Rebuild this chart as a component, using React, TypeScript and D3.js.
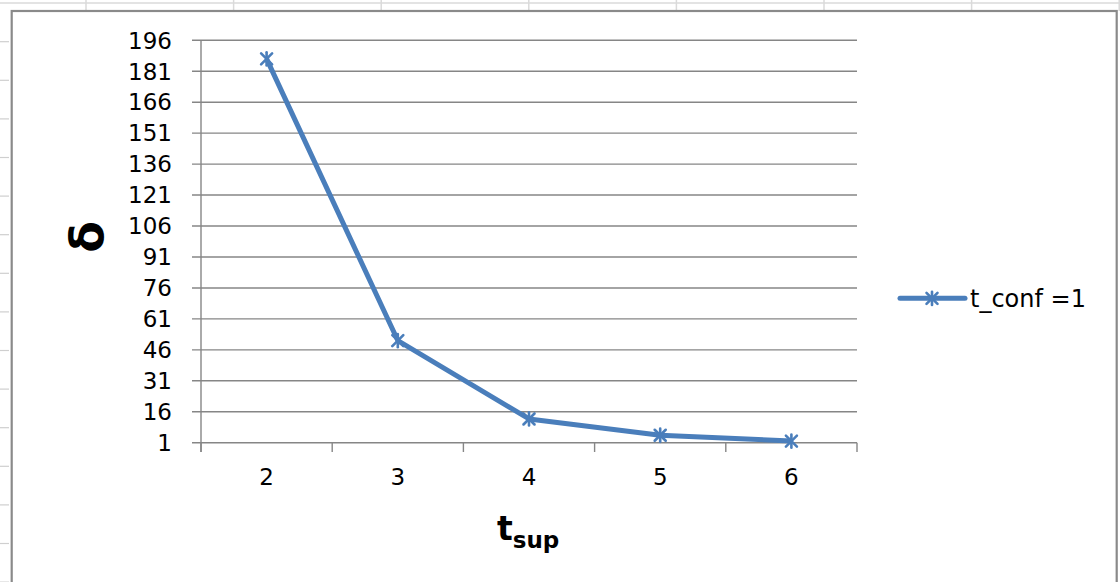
import React from "react";
import * as d3 from "d3";

const categories = ["2", "3", "4", "5", "6"];
const seriesName = "t_conf =1";
const values = [187, 50.5, 12.5, 4.6, 1.8];
const yTicks = [1, 16, 31, 46, 61, 76, 91, 106, 121, 136, 151, 166, 181, 196];

const W = 1120;
const H = 582;
const COLOR = "#4a7ebb";
const GRID = "#868686";
const FONT = "'DejaVu Sans', sans-serif";

export default function App() {
  const x = d3.scaleBand<string>().domain(categories).range([201, 857]);
  const y = d3.scaleLinear().domain([1, 196]).range([442.7, 40.3]);
  const line = d3
    .line<number>()
    .x((_, i) => (x(categories[i]) as number) + x.bandwidth() / 2)
    .y((d) => y(d));

  const sheetCols = d3.range(86, W, 147.6);
  const sheetRows = d3.range(41.7, H + 1, 38.6);
  const bounds = [...categories.map((c) => x(c) as number), 857];

  const star = (cx: number, cy: number, s: number, key: string | number) => (
    <g key={key} stroke={COLOR} strokeWidth={2.6} strokeLinecap="round">
      <line x1={cx - s} y1={cy - s} x2={cx + s} y2={cy + s} />
      <line x1={cx - s} y1={cy + s} x2={cx + s} y2={cy - s} />
      <line x1={cx} y1={cy - s * 1.2} x2={cx} y2={cy + s * 1.2} />
    </g>
  );

  return (
    <div style={{ position: "absolute", left: 0, top: 0 }}>
      <svg width={W} height={H} style={{ display: "block", background: "#fff" }}>
        {/* spreadsheet background */}
        <line x1={0} x2={W} y1={3} y2={3} stroke="#dadada" strokeWidth={1.5} />
        {sheetCols.map((cx, i) => (
          <line key={"c" + i} x1={cx} x2={cx} y1={0} y2={11} stroke="#dadada" strokeWidth={1.5} />
        ))}
        {sheetRows.map((ry, i) => (
          <line key={"r" + i} x1={0} x2={9} y1={ry} y2={ry} stroke="#cfcfcf" strokeWidth={1.2} />
        ))}
        {/* chart area */}
        <rect x={11.7} y={11} width={1105} height={H + 20} fill="#fff" stroke="#8a8a8a" strokeWidth={2.2} />

        {/* gridlines + y ticks */}
        {yTicks.map((t) => (
          <g key={"g" + t}>
            <line x1={192} x2={857} y1={y(t)} y2={y(t)} stroke={GRID} strokeWidth={1.4} />
            <text
              x={172}
              y={y(t)}
              dy="0.36em"
              textAnchor="end"
              fontFamily={FONT}
              fontSize={23}
              fill="#000"
            >
              {t}
            </text>
          </g>
        ))}
        {/* y axis */}
        <line x1={201} x2={201} y1={y(196)} y2={452} stroke={GRID} strokeWidth={1.4} />
        {/* x tick marks */}
        {bounds.map((b, i) => (
          <line key={"xt" + i} x1={b} x2={b} y1={y(1)} y2={452} stroke={GRID} strokeWidth={1.4} />
        ))}
        {categories.map((c) => (
          <text
            key={"xl" + c}
            x={(x(c) as number) + x.bandwidth() / 2}
            y={477}
            dy="0.36em"
            textAnchor="middle"
            fontFamily={FONT}
            fontSize={23}
            fill="#000"
          >
            {c}
          </text>
        ))}

        {/* series */}
        <path d={line(values) || ""} fill="none" stroke={COLOR} strokeWidth={5} strokeLinejoin="round" />
        {values.map((v, i) =>
          star((x(categories[i]) as number) + x.bandwidth() / 2, y(v), 5.5, "m" + i)
        )}

        {/* axis titles */}
        <text
          transform={`translate(103,237) rotate(-90)`}
          textAnchor="middle"
          fontFamily={FONT}
          fontWeight="bold"
          fontSize={46}
          fill="#000"
        >
          δ
        </text>
        <text x={497} y={540} fontFamily={FONT} fontWeight="bold" fontSize={33} fill="#000">
          t
          <tspan fontSize={23} dy={8}>
            sup
          </tspan>
        </text>

        {/* legend */}
        <line x1={900} x2={965} y1={298.3} y2={298.3} stroke={COLOR} strokeWidth={5} strokeLinecap="round" />
        {star(932, 298.3, 5.5, "leg")}
        <text x={970} y={298.3} dy="0.36em" fontFamily={FONT} fontSize={24} fill="#000">
          {seriesName}
        </text>
      </svg>
    </div>
  );
}
